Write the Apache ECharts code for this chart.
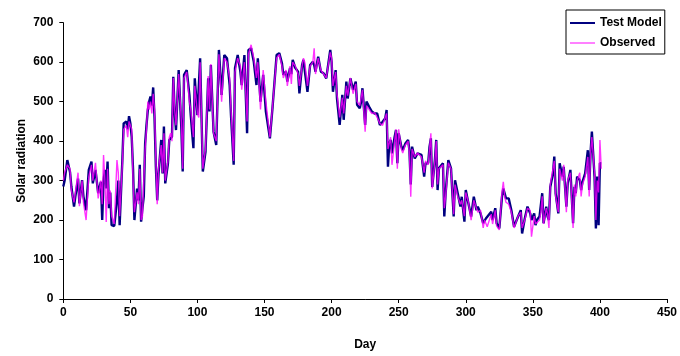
<!DOCTYPE html>
<html>
<head>
<meta charset="utf-8">
<script src="https://cdn.jsdelivr.net/npm/echarts@6/dist/echarts.min.js"></script>
<style>html,body{margin:0;padding:0;background:#fff}#c{width:680px;height:356px}</style>
</head>
<body>
<div id="c"></div>
<script>
const days = [0,1,3,5,6,8,9,11,12,14,15,17,19,21,22,24,26,28,29,30,31,32,33,34,35,36,38,40,41,42,44,45,47,48,49,50,51,52,53,54,55,56,57,58,59,60,61,62,63,64,65,66,67,68,69,70,71,73,74,75,76,78,79,80,81,82,83,84,86,88,89,90,92,94,95,97,98,100,101,102,104,106,108,109,110,112,114,116,118,120,122,124,125,127,128,130,132,133,135,137,138,140,142,144,145,147,149,151,153,154,156,159,161,163,164,166,167,169,170,171,173,175,176,178,179,180,182,184,186,187,188,190,192,194,196,197,199,200,201,203,204,206,208,209,211,212,214,216,218,219,221,222,223,225,226,228,230,232,234,236,238,240,241,242,243,244,245,247,248,249,250,252,253,255,257,258,259,260,262,264,267,269,270,272,273,274,275,277,278,279,280,283,284,285,287,289,291,292,294,296,297,299,300,302,304,306,308,309,311,313,314,315,316,319,320,322,323,325,327,328,329,330,332,334,336,337,339,341,342,344,346,348,349,351,352,353,355,356,357,358,360,361,362,363,365,366,367,369,370,372,373,375,376,378,380,381,382,383,385,386,387,388,389,391,392,393,394,396,397,398,399,400,401];
const testModel = [285,300,352,322,285,234,260,305,242,301,260,225,327,348,293,327,268,297,200,300,327,280,348,230,270,187,185,250,300,187,350,445,450,430,463,445,410,327,200,240,280,250,340,196,230,260,394,440,479,500,513,490,536,460,335,250,318,403,318,437,293,344,403,407,411,563,475,428,580,432,323,568,580,517,466,382,559,466,470,610,323,373,559,475,593,424,390,631,517,618,610,542,466,340,585,618,576,542,618,420,631,635,601,542,610,500,568,475,430,407,487,618,623,597,568,576,551,585,570,606,585,576,521,593,606,601,525,593,601,593,576,614,576,572,559,559,631,601,525,580,508,441,517,454,551,508,559,530,551,492,483,500,534,441,500,487,475,470,470,441,449,458,479,335,394,403,369,411,428,344,420,386,377,394,403,377,290,386,356,369,365,310,344,344,386,407,284,352,403,276,331,344,209,268,352,331,209,301,268,234,259,196,276,242,209,259,225,234,217,192,187,204,209,221,200,230,192,179,259,280,276,255,255,225,183,192,209,225,166,204,234,217,200,217,187,200,209,209,268,192,234,209,200,284,318,361,268,217,344,310,335,234,293,327,192,284,268,310,301,276,297,293,318,377,276,369,424,310,179,310,187,344,344];
const observed = [300,320,340,330,275,245,250,320,235,300,245,200,310,340,300,345,255,300,240,365,300,195,330,240,275,210,190,352,320,210,340,430,440,410,450,440,430,300,220,220,270,240,330,200,210,300,380,430,500,480,500,470,520,480,350,240,330,390,320,420,300,350,410,420,400,560,480,440,570,450,330,560,575,500,480,410,540,470,460,600,330,380,565,480,595,420,400,620,500,610,600,560,480,350,575,610,590,530,600,450,620,644,610,560,600,480,580,500,440,410,490,610,620,590,560,580,540,590,545,600,590,570,540,590,610,600,540,590,600,635,570,610,580,570,560,555,625,610,540,575,520,460,510,470,540,515,560,520,545,500,490,495,530,424,490,480,470,472,460,445,440,460,470,380,380,410,340,400,430,330,430,380,370,390,400,370,259,380,360,370,360,320,350,340,380,420,280,350,400,290,330,340,230,260,345,330,215,290,260,240,250,210,270,245,200,250,230,220,225,180,200,200,183,215,190,225,185,175,270,297,260,245,240,220,180,190,210,220,180,200,230,225,158,210,190,195,200,220,260,190,230,215,180,290,330,350,260,220,330,300,340,220,300,320,180,290,260,300,320,260,290,300,310,360,260,370,410,320,200,300,270,403,330];
const yTicks = [0,100,200,300,400,500,600,700];
const xTicks = [0,50,100,150,200,250,300,350,400,450];

const chart = echarts.init(document.getElementById('c'), null, {renderer:'canvas'});
const font = 'Liberation Sans, Arial, sans-serif';
chart.setOption({
  animation:false,
  backgroundColor:'#fff',
  textStyle:{fontFamily:font},
  grid:{left:63.3, right:11.7, top:22.7, bottom:57, containLabel:false},
  legend:{
    orient:'vertical', left:566, top:10, width:103,
    padding:[7,3,5,4], itemGap:8, itemWidth:25, itemHeight:14,
    borderColor:'#000', borderWidth:1, backgroundColor:'#fff',
    textStyle:{fontFamily:font, fontWeight:'bold', fontSize:12, color:'#000'},
    data:[
      {name:'Test Model', icon:'path://M0 0 H25 V2 H0 Z'},
      {name:'Observed', icon:'path://M0 0 H25 V1 H0 Z'}
    ]
  },
  xAxis:{
    type:'value', min:0, max:450, interval:50,
    name:'Day', nameLocation:'middle', nameGap:40, nameMoveOverlap:false,
    nameTextStyle:{fontFamily:font, fontWeight:'bold', fontSize:12, color:'#000'},
    axisLine:{show:true, lineStyle:{color:'#000', width:1}},
    axisTick:{show:true, length:4, lineStyle:{color:'#000'}},
    axisLabel:{margin:8, fontFamily:font, fontWeight:'bold', fontSize:12, color:'#000',
      formatter:v=> xTicks.includes(v)? String(v):''},
    splitLine:{show:false}
  },
  yAxis:{
    type:'value', min:0, max:700, interval:100,
    name:'Solar radiation', nameLocation:'middle', nameGap:36, nameMoveOverlap:false,
    nameTextStyle:{fontFamily:font, fontWeight:'bold', fontSize:12, color:'#000'},
    axisLine:{show:true, lineStyle:{color:'#000', width:1}},
    axisTick:{show:true, length:4, lineStyle:{color:'#000'}},
    axisLabel:{margin:10, fontFamily:font, fontWeight:'bold', fontSize:12, color:'#000',
      formatter:v=> yTicks.includes(v)? String(v):''},
    splitLine:{show:false}
  },
  series:[
    {name:'Test Model', type:'line', symbol:'none', smooth:false,
     data: days.map((d,i)=>[d,testModel[i]]),
     lineStyle:{color:'#000080', width:2.4}, itemStyle:{color:'#000080'}},
    {name:'Observed', type:'line', symbol:'none', smooth:false,
     data: days.map((d,i)=>[d,observed[i]]),
     lineStyle:{color:'#ff00ff', width:1.4, opacity:0.8}, itemStyle:{color:'#ff00ff'}}
  ]
});
</script>
</body>
</html>
